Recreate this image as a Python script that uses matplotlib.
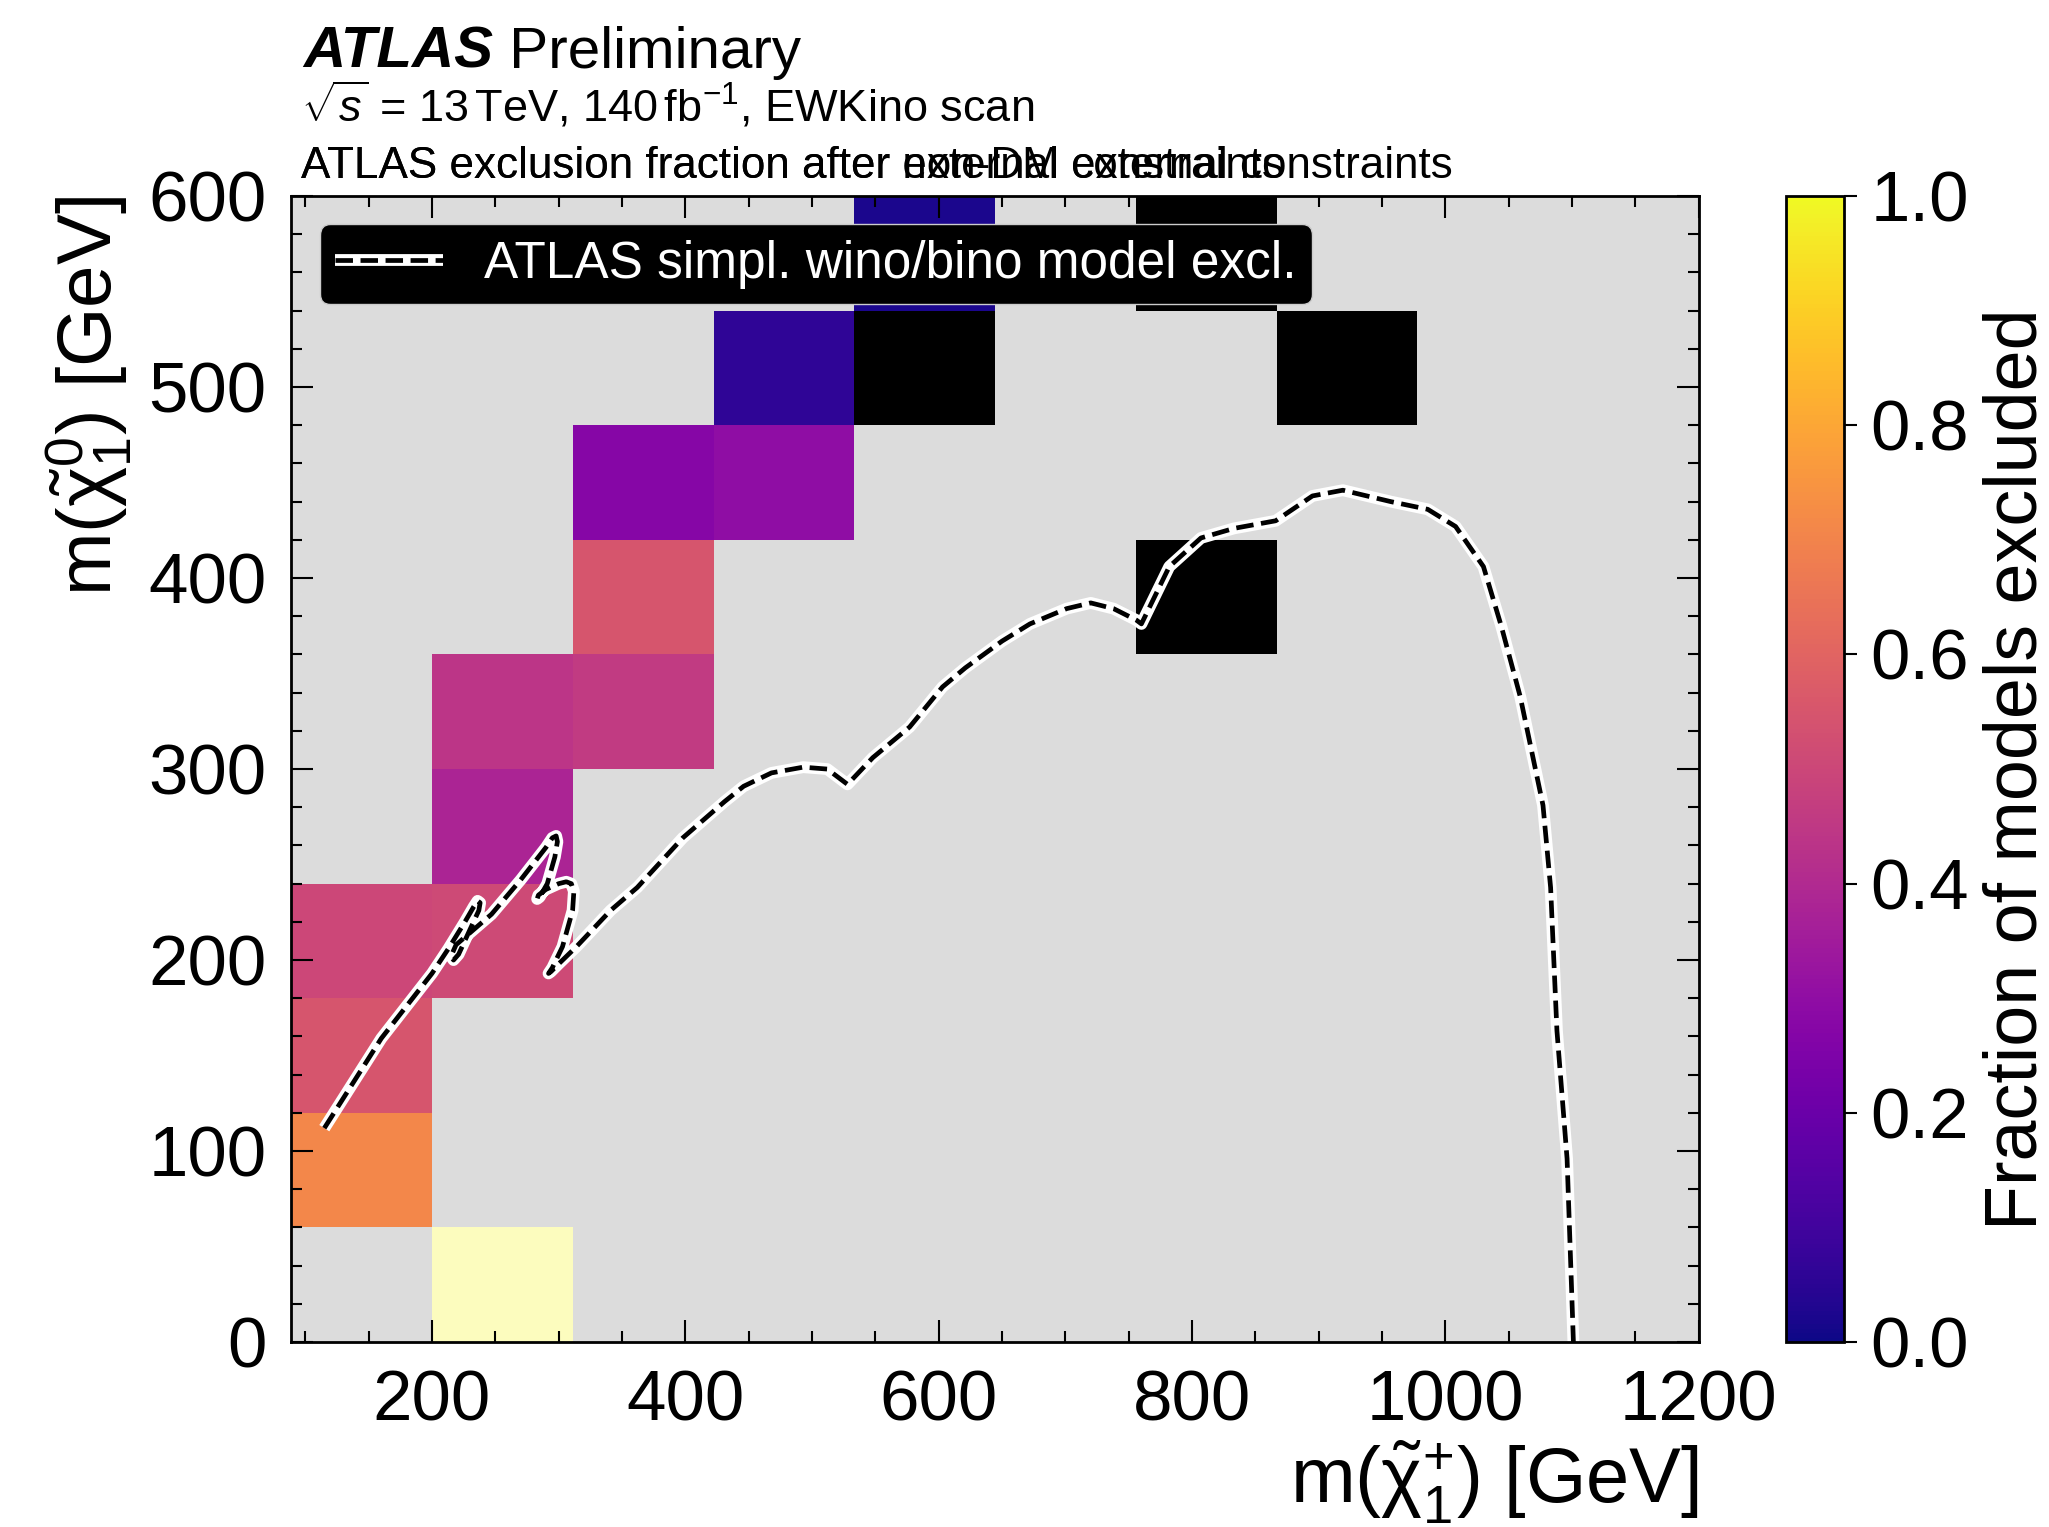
import numpy as np
import matplotlib
matplotlib.use("Agg")
import matplotlib.pyplot as plt
from matplotlib.colors import ListedColormap

plt.rcParams["font.family"] = ["Liberation Sans", "DejaVu Sans"]
plt.rcParams["mathtext.fontset"] = "custom"
plt.rcParams["mathtext.rm"] = "Liberation Sans"
plt.rcParams["mathtext.it"] = "Liberation Sans:italic"
plt.rcParams["mathtext.bf"] = "Liberation Sans:bold"

# scan grid (GeV)
x_edges = np.linspace(89, 1200, 11)
y_edges = np.linspace(0, 600, 11)

# filled bins: chargino mass, neutralino mass (bin centres) and excluded fraction
frac_mc1 = [145, 145, 145, 256, 256, 256, 367, 367, 367, 478, 478, 589]
frac_mn1 = [90, 150, 210, 210, 270, 330, 330, 390, 450, 450, 510, 570]
frac_val = [0.71, 0.55, 0.50, 0.51, 0.38, 0.44, 0.46, 0.55, 0.27, 0.30, 0.06, 0.02]

# bins shown in black
black_mc1 = [589, 811, 811, 922]
black_mn1 = [510, 390, 570, 510]

# bin shown in pale yellow
pale_mc1 = [256]
pale_mn1 = [30]

# simplified wino/bino exclusion contour
curve_mc1 = [115, 160, 200, 213, 226, 233, 236, 238, 237, 230, 221, 217, 215, 219,
             247, 270, 290, 295, 298, 299, 297, 291, 285, 283, 284, 290, 300, 306,
             310, 312, 311, 303, 295, 292, 294, 300, 314, 341, 362, 398, 431, 446,
             468, 493, 512, 528, 548, 577, 603, 621, 650, 672, 701, 720, 738, 756,
             760, 782, 807, 833, 866, 895, 919, 957, 986, 1008, 1030, 1044, 1059,
             1077, 1083, 1088, 1096, 1101]
curve_mn1 = [112, 159, 193, 206, 220, 228, 231, 230, 226, 216, 203, 200, 202, 208,
             224, 242, 259, 264, 265, 262, 254, 240, 233, 232, 234, 237, 240, 241,
             240, 236, 226, 207, 196, 193, 194, 198, 207, 226, 238, 264, 283, 291,
             298, 301, 300, 292, 306, 322, 343, 353, 367, 376, 384, 387, 384, 378,
             376, 406, 421, 426, 430, 443, 446, 440, 436, 427, 406, 375, 338,
             281, 238, 163, 96, 0]


def grid(xs, ys, w=None):
    h, _, _ = np.histogram2d(xs, ys, bins=[x_edges, y_edges], weights=w)
    n, _, _ = np.histogram2d(xs, ys, bins=[x_edges, y_edges])
    return np.ma.masked_where(n.T == 0, h.T)


fig = plt.figure(figsize=(20.49, 15.27), dpi=100)
ax = fig.add_axes([0.1422, 0.1211, 0.6869, 0.7505])
cax = fig.add_axes([0.8718, 0.1211, 0.0281, 0.7505])
ax.set_facecolor("#dcdcdc")

mesh = ax.pcolormesh(x_edges, y_edges, grid(frac_mc1, frac_mn1, frac_val),
                     cmap="plasma", vmin=0, vmax=1)
ax.pcolormesh(x_edges, y_edges, grid(black_mc1, black_mn1),
              cmap=ListedColormap(["black"]))
ax.pcolormesh(x_edges, y_edges, grid(pale_mc1, pale_mn1),
              cmap=ListedColormap(["#fcfcbe"]))

# white halo under the dashed contour
halo, = ax.plot(curve_mc1, curve_mn1, color="white", lw=8.5,
                solid_joinstyle="round", solid_capstyle="butt")
dash, = ax.plot(curve_mc1, curve_mn1, color="black", ls="--", lw=3.4)

ax.set_xlim(89, 1200)
ax.set_ylim(0, 600)
ax.set_xticks([200, 400, 600, 800, 1000, 1200])
ax.set_xticks(np.arange(100, 1200, 50), minor=True)
ax.set_yticks(np.arange(0, 601, 100))
ax.set_yticks(np.arange(0, 601, 20), minor=True)
ax.tick_params(which="both", direction="in", top=True, right=True, width=1.5)
ax.tick_params(which="major", length=16, labelsize=51)
ax.tick_params(which="minor", length=8)
ax.tick_params(axis="x", which="major", pad=20)
ax.tick_params(axis="y", which="major", pad=18)
for s in ax.spines.values():
    s.set_linewidth(2)

ax.set_xlabel(r"m($\tilde{\mathrm{\chi}}^{+}_{1}$) [GeV]", fontsize=56, loc="right",
              labelpad=2)
ax.set_ylabel(r"m($\tilde{\mathrm{\chi}}^{0}_{1}$) [GeV]", fontsize=55, loc="top",
              labelpad=10)

leg = ax.legend(handles=[(halo, dash)], labels=["ATLAS simpl. wino/bino model excl."],
                loc="upper left", fontsize=37, frameon=True, fancybox=True,
                facecolor="black", edgecolor="0.8", framealpha=1, labelcolor="white",
                handlelength=2.1, handletextpad=0.8, borderpad=0.3, borderaxespad=0.55)

cb = fig.colorbar(mesh, cax=cax)
cb.set_ticks([0, 0.2, 0.4, 0.6, 0.8, 1.0])
cb.ax.tick_params(direction="out", length=9, width=1.5, labelsize=51, pad=10)
cb.outline.set_linewidth(2)
cb.set_label("Fraction of models excluded", fontsize=53, labelpad=10)

t = fig.text(0.1478, 0.9555, "ATLAS", fontsize=42, fontweight="bold",
             fontstyle="italic", va="baseline")
fig.canvas.draw()
bb = t.get_window_extent()
fig.text(bb.x1 / fig.bbox.width, 0.9555, " Preliminary", fontsize=42, va="baseline")

fig.text(0.1470, 0.9204, r"$\sqrt{s}$ = 13$\,$TeV, 140$\,$fb$^{-1}$, EWKino scan",
         fontsize=32.5, va="baseline")
fig.text(0.1470, 0.8836, "ATLAS exclusion fraction after external constraints",
         fontsize=31.7, va="baseline")
fig.text(0.1470, 0.8836, "ATLAS exclusion fraction after non-DM external constraints",
         fontsize=31.7, va="baseline")

fig.savefig("out.png", dpi=100)
